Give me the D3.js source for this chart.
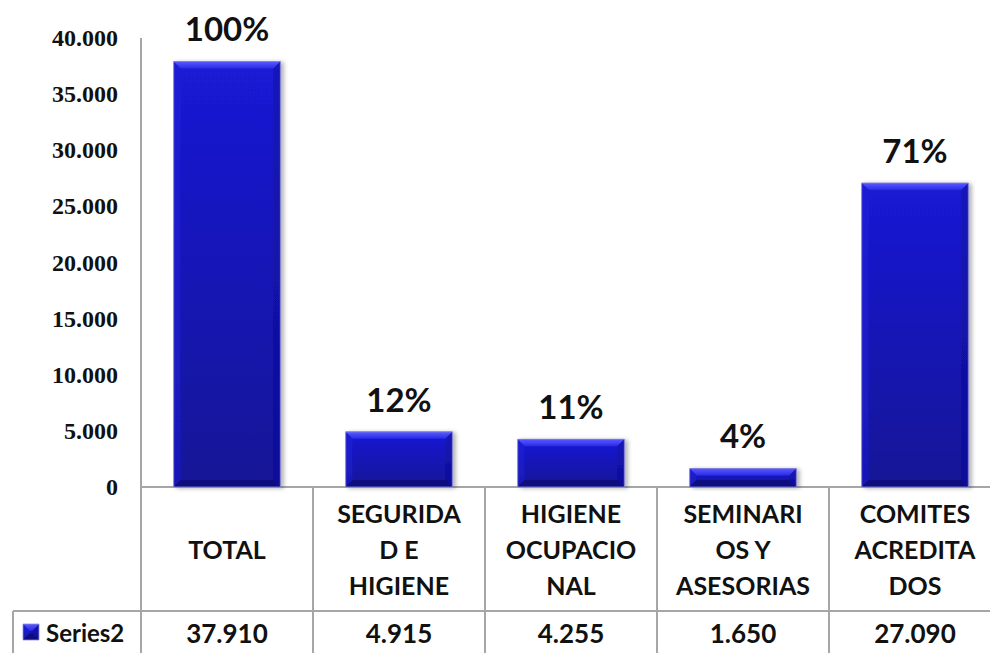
<!DOCTYPE html>
<html>
<head>
<meta charset="utf-8">
<script src="https://cdn.jsdelivr.net/npm/d3@7"></script>
<style>
  html, body { margin: 0; padding: 0; background: #fff; }
  svg { display: block; }
</style>
</head>
<body>
<div id="chart"></div>
<script>
'use strict'

// data
const categories = ['TOTAL', 'SEGURIDAD E HIGIENE', 'HIGIENE OCUPACIONAL', 'SEMINARIOS Y ASESORIAS', 'COMITES ACREDITADOS'];
const categoryLines = [
  ['TOTAL'],
  ['SEGURIDA', 'D E', 'HIGIENE'],
  ['HIGIENE', 'OCUPACIO', 'NAL'],
  ['SEMINARI', 'OS Y', 'ASESORIAS'],
  ['COMITES', 'ACREDITA', 'DOS']
];
const series2 = [37910, 4915, 4255, 1650, 27090];
const pctLabels = ['100%', '12%', '11%', '4%', '71%'];
const yTicks = [0, 5000, 10000, 15000, 20000, 25000, 30000, 35000, 40000];
const seriesName = 'Series2';

const width = 990;
const height = 653;

const plotLeft = 141;
const plotRight = 1001;
const plotTop = 38;
const plotBottom = 487;
const tableRow = 611;
const tableLeft = 13;
const gridColor = '#a6a6a6';

const es = d3.formatLocale({ decimal: ',', thousands: '.', grouping: [3], currency: ['', ''] });
const fmt = es.format(',d');

const svg = d3.select('#chart').append('svg')
  .attr('width', width)
  .attr('height', height);

const defs = svg.append('defs');

const face = defs.append('linearGradient').attr('id', 'face')
  .attr('x1', 0).attr('y1', 0).attr('x2', 0).attr('y2', 1);
face.append('stop').attr('offset', '0%').attr('stop-color', '#1a1ad6');
face.append('stop').attr('offset', '100%').attr('stop-color', '#121296');

const topBevel = defs.append('linearGradient').attr('id', 'topBevel')
  .attr('x1', 0).attr('y1', 0).attr('x2', 0).attr('y2', 1);
topBevel.append('stop').attr('offset', '0%').attr('stop-color', '#5a5aff');
topBevel.append('stop').attr('offset', '100%').attr('stop-color', '#2a2ae8');

const shadow = defs.append('filter').attr('id', 'shadow')
  .attr('x', '-10%').attr('y', '-10%').attr('width', '130%').attr('height', '130%');
shadow.append('feDropShadow')
  .attr('dx', 3).attr('dy', 1).attr('stdDeviation', 2)
  .attr('flood-color', '#000').attr('flood-opacity', 0.3);

const x = d3.scaleBand()
  .domain(categories)
  .range([plotLeft, plotRight])
  .paddingInner(0.38)
  .paddingOuter(0.19);

const y = d3.scaleLinear()
  .domain([0, 40000])
  .range([plotBottom, plotTop]);

// y axis labels
svg.append('g')
  .selectAll('text')
  .data(yTicks)
  .join('text')
  .attr('x', 118)
  .attr('y', d => y(d))
  .attr('text-anchor', 'end')
  .attr('dominant-baseline', 'central')
  .attr('font-family', '"Liberation Serif", "DejaVu Serif", serif')
  .attr('font-weight', 'bold')
  .attr('font-size', 24)
  .attr('fill', '#111')
  .text(d => fmt(d));

// axis + table grid
const grid = svg.append('g')
  .attr('stroke', gridColor)
  .attr('stroke-width', 1.2)
  .attr('shape-rendering', 'crispEdges');

grid.append('line')
  .attr('x1', plotLeft).attr('x2', plotLeft)
  .attr('y1', plotTop).attr('y2', height);

grid.append('line')
  .attr('x1', plotLeft).attr('x2', width)
  .attr('y1', plotBottom).attr('y2', plotBottom);

grid.append('line')
  .attr('x1', tableLeft).attr('x2', width)
  .attr('y1', tableRow).attr('y2', tableRow);

grid.append('line')
  .attr('x1', tableLeft).attr('x2', tableLeft)
  .attr('y1', tableRow).attr('y2', height);

grid.selectAll('.sep')
  .data(categories.slice(1))
  .join('line')
  .attr('class', 'sep')
  .attr('x1', d => x(d) - x.step() * x.paddingInner() / 2)
  .attr('x2', d => x(d) - x.step() * x.paddingInner() / 2)
  .attr('y1', plotBottom).attr('y2', height);

// bevelled bar parts
function bevelParts(x0, x1, y0, y1) {
  const b = Math.min(7, (y1 - y0) / 2.4);
  return [
    { d: `M${x0},${y0}H${x1}V${y1}H${x0}Z`, fill: 'url(#face)' },
    { d: `M${x0},${y0}L${x0 + b},${y0 + b}V${y1 - b}L${x0},${y1}Z`, fill: '#2020d8', opacity: 0.5 },
    { d: `M${x1},${y0}L${x1 - b},${y0 + b}V${y1 - b}L${x1},${y1}Z`, fill: '#0e0e9a', opacity: 0.5 },
    { d: `M${x0},${y1}L${x0 + b},${y1 - b}H${x1 - b}L${x1},${y1}Z`, fill: '#0c0c7a', opacity: 0.85 },
    { d: `M${x0},${y0}H${x1}L${x1 - b},${y0 + b}H${x0 + b}Z`, fill: 'url(#topBevel)' },
    { d: `M${x0},${y0}H${x1}V${y1}H${x0}Z`, fill: 'none', stroke: '#8a8ad8', sw: 0.8 }
  ];
}

const bars = svg.append('g')
  .selectAll('g')
  .data(series2)
  .join('g')
  .attr('filter', 'url(#shadow)');

bars.each(function (d, i) {
  const x0 = x(categories[i]);
  const x1 = x0 + x.bandwidth();
  const parts = bevelParts(x0, x1, y(d), y(0));
  d3.select(this).selectAll('path')
    .data(parts)
    .join('path')
    .attr('d', p => p.d)
    .attr('fill', p => p.fill)
    .attr('stroke', p => p.stroke || 'none')
    .attr('stroke-width', p => p.sw || 0)
    .attr('opacity', p => p.opacity || 1);
});

const sansBold = 'Lato, "Open Sans", "DejaVu Sans", sans-serif';

// percent labels
svg.append('g')
  .selectAll('text')
  .data(series2)
  .join('text')
  .attr('x', (d, i) => x(categories[i]) + x.bandwidth() / 2)
  .attr('y', d => y(d) - 20)
  .attr('text-anchor', 'middle')
  .attr('font-family', sansBold)
  .attr('font-weight', 'bold')
  .attr('font-size', 33)
  .attr('fill', '#111')
  .text((d, i) => pctLabels[i]);

// category labels
const lineGap = 36;
const labelMid = 549;
svg.append('g')
  .selectAll('text')
  .data(categoryLines)
  .join('text')
  .attr('text-anchor', 'middle')
  .attr('font-family', sansBold)
  .attr('font-weight', 'bold')
  .attr('font-size', 25)
  .attr('fill', '#111')
  .each(function (lines, i) {
    const cx = x(categories[i]) + x.bandwidth() / 2;
    d3.select(this).selectAll('tspan')
      .data(lines)
      .join('tspan')
      .attr('x', cx)
      .attr('y', (l, j) => labelMid + (j - (lines.length - 1) / 2) * lineGap)
      .attr('dominant-baseline', 'central')
      .text(l => l);
  });

// data table row
const rowMid = 633;
svg.append('g')
  .selectAll('text')
  .data(series2)
  .join('text')
  .attr('x', (d, i) => x(categories[i]) + x.bandwidth() / 2)
  .attr('y', rowMid)
  .attr('text-anchor', 'middle')
  .attr('dominant-baseline', 'central')
  .attr('font-family', sansBold)
  .attr('font-weight', 'bold')
  .attr('font-size', 26)
  .attr('fill', '#111')
  .text(d => fmt(d));

// legend key
const key = svg.append('g');
bevelParts(23, 39, 624, 640).forEach(p => {
  key.append('path').attr('d', p.d).attr('fill', p.fill)
    .attr('stroke', p.stroke || 'none').attr('stroke-width', p.sw || 0)
    .attr('opacity', p.opacity || 1);
});
key.append('text')
  .attr('x', 46)
  .attr('y', rowMid - 1)
  .attr('dominant-baseline', 'central')
  .attr('font-family', sansBold)
  .attr('font-weight', 'bold')
  .attr('font-size', 24)
  .attr('fill', '#111')
  .text(seriesName);
</script>
</body>
</html>
